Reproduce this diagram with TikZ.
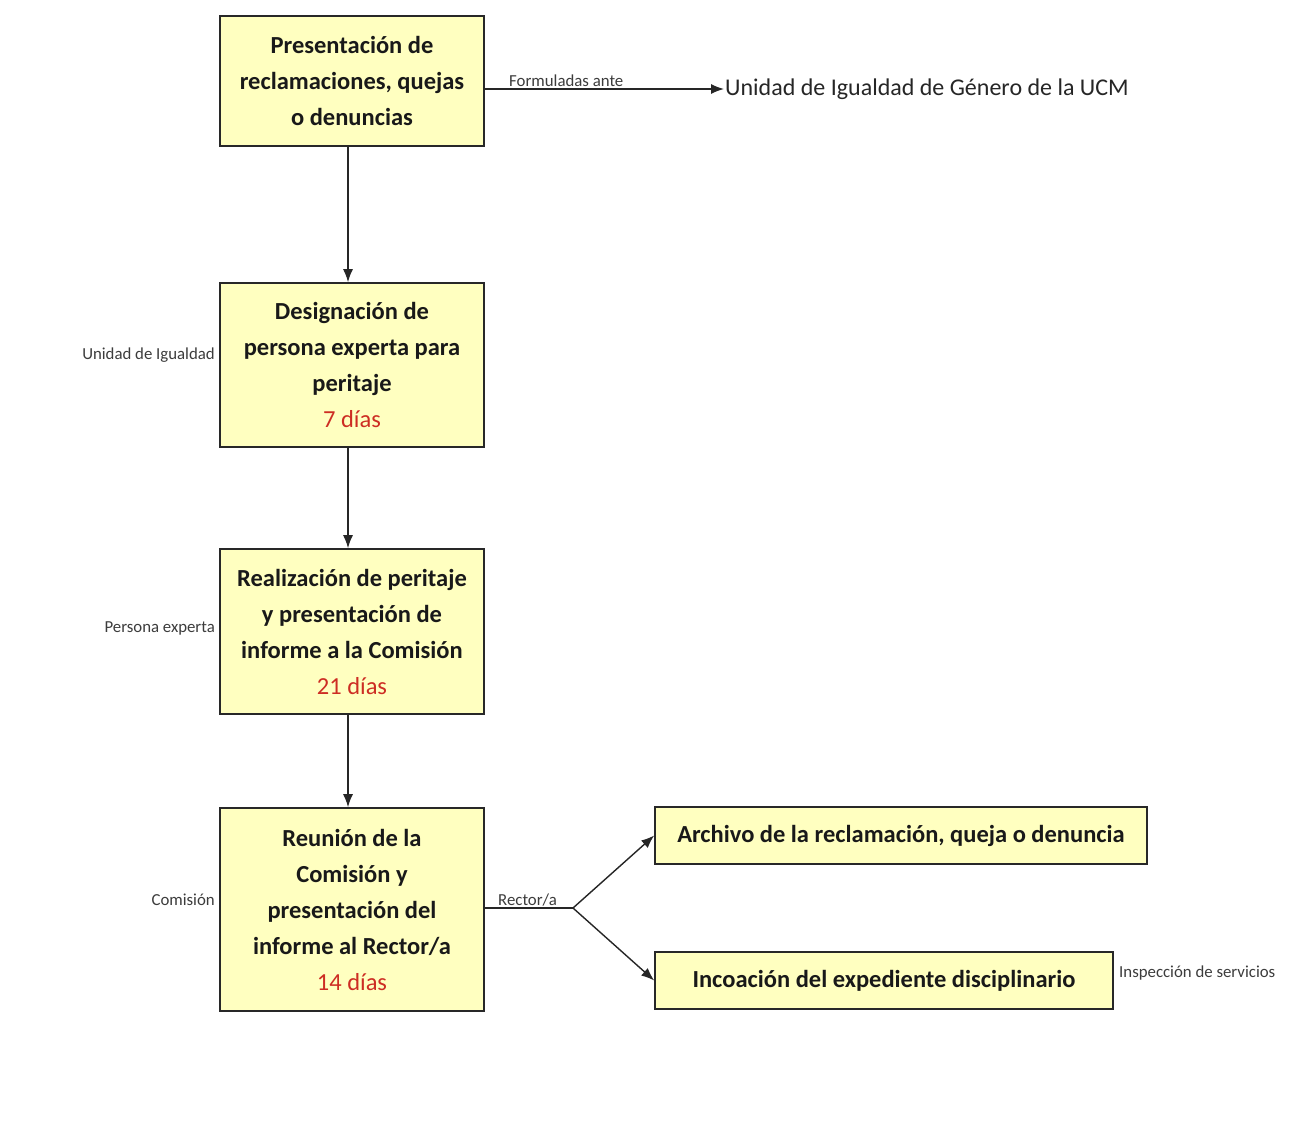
\documentclass[tikz,border=0pt]{standalone}
\usepackage{fontspec}
\setmainfont{Carlito}
\usetikzlibrary{arrows.meta}
\definecolor{boxfill}{RGB}{255,255,192}
\definecolor{boxline}{RGB}{40,40,40}
\definecolor{dayred}{RGB}{205,45,35}
\definecolor{labgray}{RGB}{60,60,60}
\tikzset{
  stepbox/.style={draw=boxline, line width=1.6pt, fill=boxfill, align=center, inner sep=0pt,
    minimum width=264pt, font=\bfseries\fontsize{24.5}{36}\selectfont, text=black!90},
  widebox/.style={draw=boxline, line width=1.6pt, fill=boxfill, align=center, inner sep=0pt,
    minimum height=57pt, font=\bfseries\fontsize{24.5}{28}\selectfont, text=black!90},
  sidelab/.style={font=\fontsize{16.8}{18}\selectfont, text=labgray, inner sep=1pt},
  arr/.style={-{Latex[length=13pt,width=10pt]}, line width=1.4pt, draw=black!85},
  ln/.style={line width=1.4pt, draw=black!85},
}
\newcommand{\dias}[1]{{\mdseries\color{dayred}#1}}
\begin{document}
\begin{tikzpicture}[x=1pt,y=-1pt]
\useasboundingbox (0,0) rectangle (1306,1124);
\fill[white] (0,0) rectangle (1306,1124);

\node[stepbox, minimum height=130pt] (b1) at (352,81)
  {Presentación de\\reclamaciones, quejas\\o denuncias};
\node[stepbox, minimum height=164pt] (b2) at (352,365)
  {Designación de\\persona experta para\\peritaje\\\dias{7 días}};
\node[stepbox, minimum height=165pt] (b3) at (352,631.5)
  {Realización de peritaje\\y presentación de\\informe a la Comisión\\\dias{21 días}};
\node[stepbox, minimum height=203pt] (b4) at (352,909.5)
  {Reunión de la\\Comisión y\\presentación del\\informe al Rector/a\\\dias{14 días}};
\node[widebox, minimum width=492pt] (b5) at (901,835.5)
  {Archivo de la reclamación, queja o denuncia};
\node[widebox, minimum width=458pt] (b6) at (884,980.5)
  {Incoación del expediente disciplinario};

\node[anchor=west, inner sep=1pt, font=\fontsize{24}{28}\selectfont, text=black!85] (ucm) at (724,89)
  {Unidad de Igualdad de Género de la UCM};

\draw[arr] ([yshift=-8pt]b1.east) -- (ucm.west);
\node[sidelab, anchor=south west] (lform) at (508,88) {Formuladas ante};

\draw[arr] ([xshift=-4pt]b1.south) -- ([xshift=-4pt]b2.north);
\draw[arr] ([xshift=-4pt]b2.south) -- ([xshift=-4pt]b3.north);
\draw[arr] ([xshift=-4pt]b3.south) -- ([xshift=-4pt]b4.north);

\coordinate (br) at (573,908);
\draw[ln] ([yshift=1.5pt]b4.east) -- (br);
\draw[arr] (br) -- (b5.west);
\draw[arr] (br) -- (b6.west);
\node[sidelab, anchor=south west] (lrect) at (497,907) {Rector/a};

\node[sidelab, anchor=east] (l2) at (216,355) {Unidad de Igualdad};
\node[sidelab, anchor=east] (l3) at (216,628) {Persona experta};
\node[sidelab, anchor=east] (l4) at (216,900) {Comisión};
\node[sidelab, anchor=west] (l6) at (1118,973) {Inspección de servicios};
\end{tikzpicture}
\end{document}
